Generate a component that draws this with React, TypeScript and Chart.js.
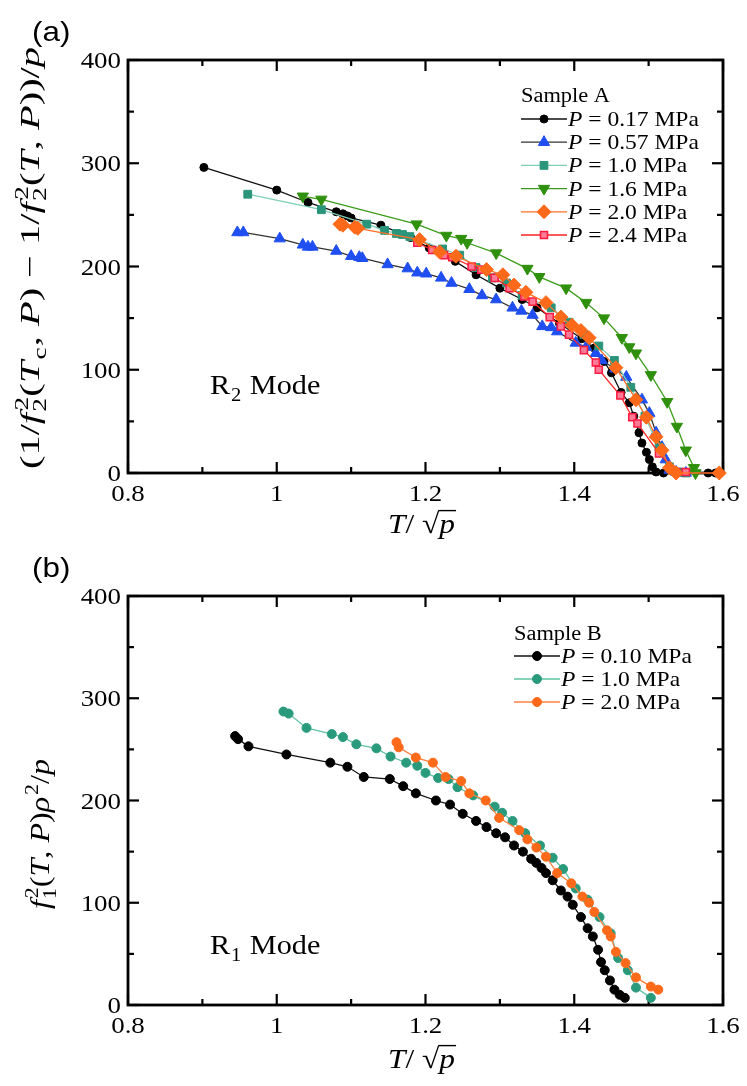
import React, { useEffect, useRef } from 'react';
import { Chart, registerables } from 'chart.js';
import { drawPoint } from 'chart.js/helpers';

Chart.register(...registerables);

// ---------- axes ----------
const xTickValues = [0.8, 1.0, 1.2, 1.4, 1.6];
const xTickLabels = ['0.8', '1', '1.2', '1.4', '1.6'];
const xMinorTicks = [0.9, 1.1, 1.3, 1.5];
const yTickValues = [0, 100, 200, 300, 400];
const yTickLabels = ['0', '100', '200', '300', '400'];
const yMinorTicks = [50, 150, 250, 350];

// ---------- panel (a): Sample A, R2 mode ----------
const legendTitleA = 'Sample A';
const pressuresA = ['0.17', '0.57', '1.0', '1.6', '2.0', '2.4'];

const a017X = [0.902, 1.0, 1.042, 1.08, 1.089, 1.095, 1.1, 1.14, 1.18, 1.205, 1.24, 1.268, 1.3, 1.33, 1.35, 1.38, 1.41, 1.427, 1.44, 1.45, 1.463, 1.474, 1.48, 1.487, 1.491, 1.497, 1.501, 1.505, 1.51, 1.52, 1.58, 1.59];
const a017Y = [296, 274, 262, 253, 251, 249, 247, 240, 228, 218, 205, 192, 179, 168, 160, 145, 130, 121, 108, 97, 78, 68, 55, 39, 29, 20, 13, 6, 1, 0, 0, 0];

const a057X = [0.947, 0.955, 1.004, 1.035, 1.042, 1.048, 1.08, 1.1, 1.111, 1.115, 1.149, 1.176, 1.189, 1.201, 1.221, 1.235, 1.259, 1.276, 1.295, 1.317, 1.329, 1.344, 1.357, 1.369, 1.377, 1.402, 1.416, 1.429, 1.437, 1.455, 1.47, 1.491, 1.501, 1.51, 1.518, 1.523, 1.528, 1.537, 1.55];
const a057Y = [233, 233, 227, 221, 219, 219, 215, 210, 209, 208, 202, 198, 194, 193, 189, 184, 178, 172, 168, 160, 157, 153, 142, 141, 137, 126, 122, 116, 109, 101, 93, 71, 58, 39, 25, 13, 3, 1, 0];

const a10X = [0.961, 1.06, 1.121, 1.145, 1.161, 1.169, 1.179, 1.223, 1.246, 1.268, 1.29, 1.309, 1.33, 1.369, 1.393, 1.413, 1.433, 1.454, 1.476, 1.495, 1.514, 1.528, 1.541, 1.55];
const a10Y = [270, 255, 241, 235, 232, 231, 229, 217, 211, 199, 189, 184, 172, 160, 146, 134, 123, 109, 83, 55, 25, 6, 1, 0];

const a16X = [1.035, 1.06, 1.188, 1.228, 1.248, 1.256, 1.295, 1.337, 1.353, 1.389, 1.416, 1.44, 1.464, 1.474, 1.483, 1.503, 1.525, 1.538, 1.55, 1.561, 1.563];
const a16Y = [268, 265, 241, 230, 227, 223, 213, 198, 190, 179, 165, 150, 131, 122, 116, 95, 69, 45, 22, 5, 0];

const a20X = [1.085, 1.089, 1.105, 1.109, 1.192, 1.219, 1.241, 1.282, 1.304, 1.319, 1.335, 1.362, 1.382, 1.397, 1.409, 1.42, 1.456, 1.483, 1.497, 1.51, 1.518, 1.528, 1.537, 1.595];
const a20Y = [241, 240, 238, 237, 226, 214, 210, 197, 192, 182, 175, 165, 151, 143, 138, 131, 102, 71, 54, 35, 22, 5, 0, 0];

const a24X = [1.189, 1.209, 1.225, 1.236, 1.262, 1.275, 1.293, 1.313, 1.333, 1.344, 1.367, 1.382, 1.393, 1.413, 1.429, 1.433, 1.462, 1.478, 1.485, 1.514, 1.537, 1.55];
const a24Y = [223, 216, 211, 209, 200, 197, 189, 179, 171, 166, 151, 142, 134, 119, 107, 100, 75, 54, 48, 19, 1, 1];

// ---------- panel (b): Sample B, R1 mode ----------
const legendTitleB = 'Sample B';
const pressuresB = ['0.10', '1.0', '2.0'];

const b010X = [0.944, 0.948, 0.962, 1.013, 1.072, 1.095, 1.117, 1.152, 1.17, 1.187, 1.214, 1.233, 1.25, 1.268, 1.282, 1.295, 1.307, 1.319, 1.331, 1.342, 1.349, 1.356, 1.362, 1.371, 1.382, 1.391, 1.398, 1.409, 1.418, 1.425, 1.432, 1.436, 1.441, 1.448, 1.454, 1.461, 1.468];
const b010Y = [263, 260, 253, 245, 237, 233, 223, 221, 214, 207, 200, 196, 187, 180, 174, 168, 164, 156, 150, 143, 139, 134, 129, 122, 112, 106, 98, 86, 75, 67, 54, 42, 34, 24, 15, 10, 7];

const b10X = [1.009, 1.016, 1.04, 1.074, 1.089, 1.107, 1.134, 1.153, 1.174, 1.189, 1.2, 1.217, 1.231, 1.243, 1.264, 1.293, 1.303, 1.317, 1.334, 1.354, 1.371, 1.385, 1.402, 1.418, 1.434, 1.449, 1.459, 1.472, 1.483, 1.503];
const b10Y = [287, 285, 271, 265, 262, 255, 251, 243, 237, 234, 227, 222, 221, 213, 205, 194, 188, 180, 168, 156, 144, 133, 114, 103, 86, 70, 46, 34, 17, 7];

const b20X = [1.161, 1.164, 1.187, 1.21, 1.227, 1.248, 1.259, 1.281, 1.299, 1.326, 1.337, 1.349, 1.362, 1.377, 1.396, 1.411, 1.42, 1.427, 1.444, 1.449, 1.456, 1.469, 1.483, 1.503, 1.513];
const b20Y = [257, 252, 242, 237, 223, 219, 207, 200, 183, 171, 162, 154, 145, 129, 119, 106, 100, 91, 73, 67, 52, 41, 27, 18, 15];

// ---------- text helpers ----------
const SERIF = '"Liberation Serif", serif';
const SANS = '"Liberation Sans", sans-serif';

Chart.defaults.font.family = SERIF;
Chart.defaults.color = '#000';

type Seg = { t: string; it?: boolean; sub?: string; sup?: string; over?: boolean };

function fnt(size: number, it?: boolean) {
  return `${it ? 'italic ' : ''}${size}px ${SERIF}`;
}

function segW(ctx: CanvasRenderingContext2D, s: Seg, size: number) {
  ctx.font = fnt(size, s.it);
  const w = ctx.measureText(s.t).width;
  let ws = 0;
  ctx.font = fnt(size * 0.68);
  if (s.sub) ws = Math.max(ws, ctx.measureText(s.sub).width);
  if (s.sup) ws = Math.max(ws, ctx.measureText(s.sup).width);
  return { w, ws: ws ? ws + size * 0.06 : 0 };
}

function richWidth(ctx: CanvasRenderingContext2D, segs: Seg[], size: number) {
  return segs.reduce((a, s) => {
    const m = segW(ctx, s, size);
    return a + m.w + m.ws;
  }, 0);
}

function drawRich(ctx: CanvasRenderingContext2D, segs: Seg[], x: number, y: number, size: number) {
  let cx = x;
  for (const s of segs) {
    const m = segW(ctx, s, size);
    ctx.font = fnt(size, s.it);
    ctx.fillText(s.t, cx, y);
    if (s.over) {
      ctx.save();
      ctx.lineWidth = Math.max(1, size * 0.05);
      ctx.beginPath();
      ctx.moveTo(cx - 1, y - size * 0.8);
      ctx.lineTo(cx + m.w + 1, y - size * 0.8);
      ctx.stroke();
      ctx.restore();
    }
    cx += m.w;
    if (s.sub || s.sup) {
      ctx.font = fnt(size * 0.68);
      if (s.sub) ctx.fillText(s.sub, cx + size * 0.03, y + size * 0.24);
      if (s.sup) ctx.fillText(s.sup, cx + size * 0.06, y - size * 0.4);
      cx += m.ws;
    }
  }
}

// ---------- plugins ----------
type Decor = {
  panelLabel: string;
  panelLabelY: number;
  modeText: string;
  modeSub: string;
  modePos: [number, number];
  yTitle: Seg[];
  yTitleCenter: [number, number];
  yTitleLen: number;
  xTitleY: number;
  legendTitle: string;
  legendX: number;
  legendTitleY: number;
  legendRowY: number;
  legendRowGap: number;
  legendLineLen: number;
  pressures: string[];
};

function makeFramePlugin() {
  return {
    id: 'frameTicks',
    beforeDatasetsDraw(chart: any) {
      const { ctx, chartArea } = chart;
      const { left, right, top, bottom } = chartArea;
      const xs = chart.scales.x;
      const ys = chart.scales.y;
      ctx.save();
      ctx.strokeStyle = '#000';
      ctx.lineCap = 'butt';
      const line = (x1: number, y1: number, x2: number, y2: number) => {
        ctx.beginPath();
        ctx.moveTo(x1, y1);
        ctx.lineTo(x2, y2);
        ctx.stroke();
      };
      ctx.lineWidth = 2.2;
      xTickValues.forEach((v) => {
        const p = xs.getPixelForValue(v);
        line(p, bottom, p, bottom - 11);
        line(p, top, p, top + 11);
      });
      yTickValues.forEach((v) => {
        const p = ys.getPixelForValue(v);
        line(left, p, left + 11, p);
        line(right, p, right - 11, p);
      });
      xMinorTicks.forEach((v) => {
        const p = xs.getPixelForValue(v);
        line(p, bottom, p, bottom - 6);
        line(p, top, p, top + 6);
      });
      yMinorTicks.forEach((v) => {
        const p = ys.getPixelForValue(v);
        line(left, p, left + 6, p);
        line(right, p, right - 6, p);
      });
      ctx.lineWidth = 2.8;
      ctx.strokeRect(left, top, right - left, bottom - top);

      // tick labels (serif, slightly wide like the original)
      ctx.fillStyle = '#000';
      ctx.font = fnt(24);
      ctx.textBaseline = 'alphabetic';
      xTickValues.forEach((v, i) => {
        const p = xs.getPixelForValue(v);
        const w = ctx.measureText(xTickLabels[i]).width * 1.12;
        ctx.save();
        ctx.translate(p - w / 2, bottom + 28);
        ctx.scale(1.12, 1);
        ctx.textAlign = 'left';
        ctx.fillText(xTickLabels[i], 0, 0);
        ctx.restore();
      });
      yTickValues.forEach((v, i) => {
        const p = ys.getPixelForValue(v);
        const w = ctx.measureText(yTickLabels[i]).width * 1.12;
        ctx.save();
        ctx.translate(left - 7 - w, p + 8);
        ctx.scale(1.12, 1);
        ctx.textAlign = 'left';
        ctx.fillText(yTickLabels[i], 0, 0);
        ctx.restore();
      });
      ctx.restore();
    },
  };
}

function makeDecorPlugin(d: Decor) {
  return {
    id: 'decor',
    afterDraw(chart: any) {
      const { ctx, chartArea } = chart;
      ctx.save();
      ctx.fillStyle = '#000';
      ctx.strokeStyle = '#000';
      ctx.textBaseline = 'alphabetic';
      ctx.textAlign = 'left';

      // panel label
      ctx.save();
      ctx.translate(32, d.panelLabelY);
      ctx.scale(1.12, 1);
      ctx.font = `28px ${SANS}`;
      ctx.fillText(d.panelLabel, 0, 0);
      ctx.restore();

      // mode label
      const parts = d.modeText.split(' ');
      ctx.save();
      ctx.translate(d.modePos[0], d.modePos[1]);
      ctx.scale(1.08, 1);
      drawRich(ctx, [{ t: parts[0], sub: d.modeSub }, { t: ' ' + parts.slice(1).join(' ') }], 0, 0, 28);
      ctx.restore();

      // y title (rotated, fitted to target length)
      const ySize = 28;
      const yw = richWidth(ctx, d.yTitle, ySize);
      ctx.save();
      ctx.translate(d.yTitleCenter[0], d.yTitleCenter[1]);
      ctx.rotate(-Math.PI / 2);
      ctx.scale(d.yTitleLen / yw, 1);
      drawRich(ctx, d.yTitle, -yw / 2, ySize * 0.32, ySize);
      ctx.restore();

      // x title: T / sqrt(p)
      const xSize = 28;
      const xSegs: Seg[] = [{ t: 'T', it: true }, { t: '/ ' }, { t: '\u221A' }, { t: 'p', it: true, over: true }];
      const xw = richWidth(ctx, xSegs, xSize);
      const cx = (chartArea.left + chartArea.right) / 2 - 4;
      ctx.save();
      ctx.translate(cx, d.xTitleY);
      ctx.scale(1.12, 1);
      drawRich(ctx, xSegs, -xw / 2, 0, xSize);
      ctx.restore();

      // legend
      const lx = d.legendX;
      ctx.save();
      ctx.translate(lx, d.legendTitleY);
      ctx.scale(1.12, 1);
      ctx.font = fnt(20);
      ctx.fillText(d.legendTitle, 0, 0);
      ctx.restore();
      chart.data.datasets.forEach((ds: any, i: number) => {
        const y = d.legendRowY + i * d.legendRowGap;
        ctx.save();
        ctx.strokeStyle = ds.borderColor;
        ctx.lineWidth = ds.borderWidth;
        ctx.beginPath();
        ctx.moveTo(lx, y);
        ctx.lineTo(lx + d.legendLineLen, y);
        ctx.stroke();
        ctx.fillStyle = ds.pointBackgroundColor;
        ctx.strokeStyle = ds.pointBorderColor;
        ctx.lineWidth = ds.pointBorderWidth;
        drawPoint(ctx, {
          pointStyle: ds.pointStyle,
          rotation: ds.pointRotation || 0,
          radius: ds.pointRadius,
          borderWidth: ds.pointBorderWidth,
        } as any, lx + d.legendLineLen / 2, y);
        ctx.restore();
        ctx.save();
        ctx.translate(lx + d.legendLineLen + 1, y + 7);
        ctx.scale(1.12, 1);
        ctx.fillStyle = '#000';
        drawRich(ctx, [{ t: 'P', it: true }, { t: ' = ' + d.pressures[i] + ' MPa' }], 0, 0, 21);
        ctx.restore();
      });
      ctx.restore();
    },
  };
}

function pts(xs: number[], ys: number[]) {
  return xs.map((x, i) => ({ x, y: ys[i] }));
}

function series(label: string, xs: number[], ys: number[], st: any) {
  return {
    label,
    data: pts(xs, ys),
    showLine: true,
    borderColor: st.line,
    borderWidth: st.lw ?? 1.3,
    pointBackgroundColor: st.fill,
    pointBorderColor: st.stroke ?? st.fill,
    pointBorderWidth: st.pbw ?? 1,
    pointStyle: st.style,
    pointRotation: st.rot ?? 0,
    pointRadius: st.r,
    pointHoverRadius: st.r,
    tension: 0,
    clip: false as any,
    order: st.order ?? 0,
  };
}

function makeConfig(datasets: any[], padTop: number, xAxisH: number, decor: Decor) {
  return {
    type: 'scatter' as const,
    data: { datasets },
    options: {
      responsive: false,
      animation: false as const,
      devicePixelRatio: 1,
      layout: { padding: { top: padTop, right: 24, left: 0, bottom: 0 } },
      plugins: { legend: { display: false }, tooltip: { enabled: false } },
      scales: {
        x: {
          type: 'linear' as const,
          min: 0.8,
          max: 1.6,
          afterBuildTicks: (s: any) => {
            s.ticks = xTickValues.map((v) => ({ value: v }));
          },
          afterFit: (s: any) => {
            s.height = xAxisH;
          },
          ticks: { display: false, callback: (_v: any, i: number) => xTickLabels[i] },
          grid: { display: false, drawTicks: false },
          border: { display: false },
        },
        y: {
          type: 'linear' as const,
          min: 0,
          max: 400,
          afterBuildTicks: (s: any) => {
            s.ticks = yTickValues.map((v) => ({ value: v }));
          },
          afterFit: (s: any) => {
            s.width = 128;
          },
          ticks: { display: false, callback: (_v: any, i: number) => yTickLabels[i] },
          grid: { display: false, drawTicks: false },
          border: { display: false },
        },
      },
    },
    plugins: [makeFramePlugin(), makeDecorPlugin(decor)],
  };
}

const yTitleA: Seg[] = [
  { t: '(1/' },
  { t: 'f', it: true, sub: '2', sup: '2' },
  { t: '(' },
  { t: 'T', it: true, sub: 'c' },
  { t: ', ' },
  { t: 'P', it: true },
  { t: ') \u2212 1/' },
  { t: 'f', it: true, sub: '2', sup: '2' },
  { t: '(' },
  { t: 'T', it: true },
  { t: ', ' },
  { t: 'P', it: true },
  { t: '))/' },
  { t: 'p', it: true },
];

const yTitleB: Seg[] = [
  { t: 'f', it: true, sub: '1', sup: '2' },
  { t: '(' },
  { t: 'T', it: true },
  { t: ', ' },
  { t: 'P', it: true },
  { t: ')' },
  { t: '\u03C1', it: true, sup: '2' },
  { t: '/' },
  { t: 'p', it: true },
];

function configA() {
  const ds = [
    series('P = ' + pressuresA[0] + ' MPa', a017X, a017Y, { line: '#111111', fill: '#000000', style: 'circle', r: 4, order: 6 }),
    series('P = ' + pressuresA[1] + ' MPa', a057X, a057Y, { line: '#333333', fill: '#1f4ff0', style: 'triangle', r: 6.5, order: 5 }),
    series('P = ' + pressuresA[2] + ' MPa', a10X, a10Y, { line: '#7fcfb6', fill: '#2a957a', style: 'rect', r: 5.5, order: 4 }),
    series('P = ' + pressuresA[3] + ' MPa', a16X, a16Y, { line: '#3b9c1a', fill: '#2f900d', style: 'triangle', rot: 180, r: 6.5, order: 3 }),
    series('P = ' + pressuresA[4] + ' MPa', a20X, a20Y, { line: '#ff7028', fill: '#ff6a1a', style: 'rectRot', r: 7, order: 1 }),
    series('P = ' + pressuresA[5] + ' MPa', a24X, a24Y, { line: '#ff2222', fill: '#ff7a96', stroke: '#ff1a40', pbw: 1.5, style: 'rect', r: 5, order: 2 }),
  ];
  return makeConfig(ds, 60, 72, {
    panelLabel: '(a)',
    panelLabelY: 41,
    modeText: 'R Mode',
    modeSub: '2',
    modePos: [210, 394],
    yTitle: yTitleA,
    yTitleCenter: [30, 258],
    yTitleLen: 422,
    xTitleY: 533,
    legendTitle: legendTitleA,
    legendX: 521,
    legendTitleY: 102,
    legendRowY: 119,
    legendRowGap: 23.2,
    legendLineLen: 46,
    pressures: pressuresA,
  });
}

function configB() {
  const ds = [
    series('P = ' + pressuresB[0] + ' MPa', b010X, b010Y, { line: '#111111', fill: '#000000', style: 'circle', r: 4.5, order: 3 }),
    series('P = ' + pressuresB[1] + ' MPa', b10X, b10Y, { line: '#5fc3a3', fill: '#2a9a7c', style: 'circle', r: 4.5, order: 2 }),
    series('P = ' + pressuresB[2] + ' MPa', b20X, b20Y, { line: '#ff8040', fill: '#ff6a1a', style: 'circle', r: 4.5, order: 1 }),
  ];
  return makeConfig(ds, 76, 81, {
    panelLabel: '(b)',
    panelLabelY: 57,
    modeText: 'R Mode',
    modeSub: '1',
    modePos: [210, 434],
    yTitle: yTitleB,
    yTitleCenter: [40, 314],
    yTitleLen: 150,
    xTitleY: 548,
    legendTitle: legendTitleB,
    legendX: 514,
    legendTitleY: 120,
    legendRowY: 136,
    legendRowGap: 23,
    legendLineLen: 46,
    pressures: pressuresB,
  });
}

function Panel({ make, top, height }: { make: () => any; top: number; height: number }) {
  const ref = useRef<HTMLCanvasElement>(null);
  useEffect(() => {
    const chart = new Chart(ref.current as HTMLCanvasElement, make());
    return () => chart.destroy();
  }, [make]);
  return (
    <canvas
      ref={ref}
      width={747}
      height={height}
      style={{ position: 'absolute', left: 0, top, width: 747, height, display: 'block' }}
    />
  );
}

export default function App() {
  return (
    <div style={{ position: 'absolute', left: 0, top: 0, width: 747, height: 1086, background: '#fff', overflow: 'hidden' }}>
      <Panel make={configA} top={0} height={545} />
      <Panel make={configB} top={520} height={566} />
    </div>
  );
}
